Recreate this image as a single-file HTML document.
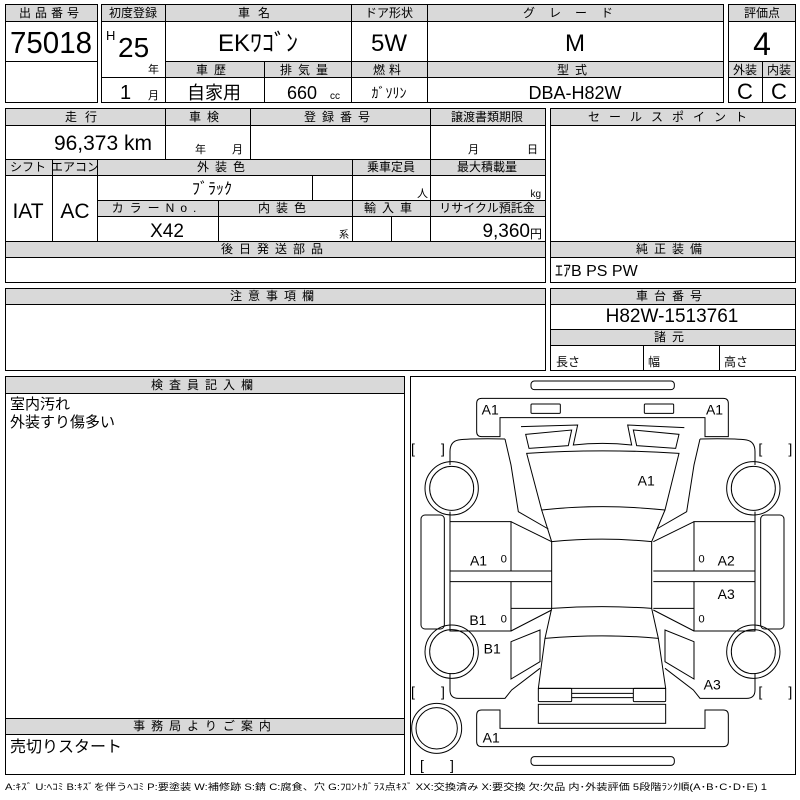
<!DOCTYPE html>
<html><head><meta charset="utf-8"><style>
html,body{margin:0;padding:0;background:#fff;width:800px;height:800px;overflow:hidden}
svg text{font-family:"Liberation Sans","Noto Sans CJK JP",sans-serif;fill:#000}
.h{font-size:12px;text-anchor:middle}
.m{text-anchor:middle}
.n{font-family:"Liberation Sans Narrow","Liberation Sans","Noto Sans CJK JP",sans-serif}
</style></head><body>
<svg width="800" height="800" viewBox="0 0 800 800" xmlns="http://www.w3.org/2000/svg">
<g fill="#d9d9d9" stroke="none">
<rect x="5" y="4" width="92" height="17"/>
<rect x="101" y="4" width="622" height="17"/>
<rect x="165" y="61" width="558" height="16"/>
<rect x="728" y="4" width="67" height="17"/>
<rect x="728" y="61" width="67" height="16"/>
<rect x="5" y="108" width="540" height="17"/>
<rect x="5" y="159" width="540" height="16"/>
<rect x="97" y="200" width="448" height="16"/>
<rect x="5" y="241" width="540" height="16"/>
<rect x="550" y="108" width="245" height="17"/>
<rect x="550" y="241" width="245" height="16"/>
<rect x="550" y="288" width="245" height="16"/>
<rect x="550" y="329" width="245" height="16"/>
<rect x="5" y="288" width="540" height="16"/>
<rect x="5" y="376" width="399" height="17"/>
<rect x="5" y="718" width="399" height="16"/>
</g>
<g fill="none" stroke="#000" stroke-width="1">
<rect x="5.5" y="4.5" width="92" height="98"/>
<path d="M5 21.5H97M5 61.5H97"/>
<rect x="101.5" y="4.5" width="622" height="98"/>
<path d="M101 21.5H723M165 61.5H723M101 77.5H723M165.5 4V102M351.5 4V102M427.5 4V102M264.5 61V102"/>
<rect x="728.5" y="4.5" width="67" height="98"/>
<path d="M728 21.5H795M728 61.5H795M728 77.5H795M762.5 61V102"/>
<rect x="5.5" y="108.5" width="540" height="174"/>
<path d="M5 125.5H545M5 159.5H545M5 175.5H545M97 200.5H545M97 216.5H545M5 241.5H545M5 257.5H545"/>
<path d="M165.5 108V159M250.5 108V159M430.5 108V241M52.5 159V241M97.5 159V241M352.5 159V241M312.5 175V200M218.5 200V241M391.5 216V241"/>
<rect x="550.5" y="108.5" width="245" height="174"/>
<path d="M550 125.5H795M550 241.5H795M550 257.5H795"/>
<rect x="550.5" y="288.5" width="245" height="82"/>
<path d="M550 304.5H795M550 329.5H795M550 345.5H795M643.5 345V370M719.5 345V370"/>
<rect x="5.5" y="288.5" width="540" height="82"/>
<path d="M5 304.5H545"/>
<rect x="5.5" y="376.5" width="399" height="398"/>
<path d="M5 393.5H404M5 718.5H404M5 734.5H404"/>
<rect x="410.5" y="376.5" width="385" height="398"/>
</g>

<!-- header texts -->
<text class="h" x="51" y="17" letter-spacing="4">出品番号</text>
<text class="m n" x="51" y="53" font-size="31" textLength="82" lengthAdjust="spacingAndGlyphs">75018</text>
<text class="h" x="133" y="17">初度登録</text>
<text x="106" y="40" font-size="13" class="n">H</text>
<text x="118" y="57" font-size="28" class="n">25</text>
<text x="148" y="73" font-size="11">年</text>
<text x="120" y="99" font-size="20" class="n">1</text>
<text x="148" y="99" font-size="11">月</text>
<text class="h" x="258" y="17" letter-spacing="8">車名</text>
<text class="m n" x="258" y="51" font-size="24">EKﾜｺﾞﾝ</text>
<text class="h" x="389" y="17">ドア形状</text>
<text class="m n" x="389" y="51" font-size="24">5W</text>
<text class="h" x="575" y="17" letter-spacing="14">グレード</text>
<text class="m n" x="575" y="51" font-size="24">M</text>
<text class="h" x="762" y="17">評価点</text>
<text class="m n" x="762" y="55" font-size="32">4</text>
<text class="h" x="214" y="74" letter-spacing="6">車歴</text>
<text class="h" x="307" y="74" letter-spacing="6">排気量</text>
<text class="h" x="389" y="74" letter-spacing="4">燃料</text>
<text class="h" x="575" y="74" letter-spacing="6">型式</text>
<text class="h" x="745" y="74">外装</text>
<text class="h" x="779" y="74">内装</text>
<text class="m" x="214" y="99" font-size="18">自家用</text>
<text class="n" x="287" y="99" font-size="18">660</text>
<text x="330" y="99" font-size="10">cc</text>
<text class="m" x="389" y="98" font-size="14">ｶﾞｿﾘﾝ</text>
<text class="m n" x="575" y="99" font-size="18">DBA-H82W</text>
<text class="m n" x="745" y="99" font-size="22">C</text>
<text class="m n" x="779" y="99" font-size="22">C</text>

<!-- middle block -->
<text class="h" x="85" y="121" letter-spacing="8">走行</text>
<text class="n" x="152" y="150" font-size="21" text-anchor="end">96,373 km</text>
<text class="h" x="207" y="121" letter-spacing="6">車検</text>
<text x="195" y="153" font-size="11">年</text>
<text x="232" y="153" font-size="11">月</text>
<text class="h" x="340" y="121" letter-spacing="6">登録番号</text>
<text class="h" x="487" y="121">譲渡書類期限</text>
<text x="468" y="153" font-size="11">月</text>
<text x="527" y="153" font-size="11">日</text>
<text class="h" x="28" y="171" font-size="11">シフト</text>
<text class="h" x="75" y="171" font-size="11">エアコン</text>
<text class="h" x="224" y="171" letter-spacing="6">外装色</text>
<text class="h" x="391" y="171">乗車定員</text>
<text class="h" x="487" y="171">最大積載量</text>
<text class="m" x="212" y="194" font-size="16">ﾌﾞﾗｯｸ</text>
<text x="428" y="197" font-size="11" text-anchor="end">人</text>
<text x="541" y="197" font-size="10" text-anchor="end">kg</text>
<text class="h" x="157" y="212" letter-spacing="6">カラーNo.</text>
<text class="h" x="285" y="212" letter-spacing="6">内装色</text>
<text class="h" x="391" y="212" letter-spacing="6">輸入車</text>
<text class="h" x="487" y="212" font-size="11">リサイクル預託金</text>
<text class="m n" x="167" y="237" font-size="19">X42</text>
<text x="349" y="238" font-size="10" text-anchor="end">系</text>
<text class="n" x="530" y="237" font-size="19" text-anchor="end">9,360</text>
<text x="542" y="238" font-size="12" text-anchor="end">円</text>
<text class="m n" x="28" y="218" font-size="21">IAT</text>
<text class="m n" x="75" y="218" font-size="21">AC</text>
<text class="h" x="275" y="253" letter-spacing="6">後日発送部品</text>

<text class="h" x="672" y="121" letter-spacing="9">セールスポイント</text>
<text class="h" x="672" y="253" letter-spacing="6">純正装備</text>
<text x="555" y="276" font-size="16" class="n">ｴｱB PS PW</text>
<text class="h" x="672" y="300" letter-spacing="6">車台番号</text>
<text class="m n" x="672" y="322" font-size="19">H82W-1513761</text>
<text class="h" x="672" y="341" letter-spacing="6">諸元</text>
<text x="556" y="366" font-size="12">長さ</text>
<text x="648" y="366" font-size="12">幅</text>
<text x="724" y="366" font-size="12">高さ</text>
<text class="h" x="275" y="300" letter-spacing="6">注意事項欄</text>
<text class="h" x="205" y="389" letter-spacing="6">検査員記入欄</text>
<text x="10" y="409" font-size="15">室内汚れ</text>
<text x="10" y="427" font-size="15">外装すり傷多い</text>
<text class="h" x="205" y="730" letter-spacing="6">事務局よりご案内</text>
<text x="10" y="752" font-size="16">売切りスタート</text>
<text x="5" y="790" font-size="9" textLength="762" lengthAdjust="spacingAndGlyphs">A:ｷｽﾞ U:ﾍｺﾐ B:ｷｽﾞを伴うﾍｺﾐ P:要塗装 W:補修跡 S:錆 C:腐食、穴 G:ﾌﾛﾝﾄｶﾞﾗｽ点ｷｽﾞ XX:交換済み X:要交換 欠:欠品 内･外装評価 5段階ﾗﾝｸ順(A･B･C･D･E) 1</text>

<!-- car diagram, zoom coords -->
<g transform="translate(405,375) scale(0.33333)">
<g fill="none" stroke="#000" stroke-width="3">
<defs>
<g id="half">
<circle cx="140" cy="340" r="80"/><circle cx="140" cy="340" r="66"/>
<circle cx="140" cy="830" r="80"/><circle cx="140" cy="830" r="66"/>
<rect x="48" y="420" width="70" height="342" rx="12"/>
<path d="M300 192 Q200 190 160 195 Q135 200 135 230 V270"/>
<path d="M135 410 V440 H318 V588"/>
<path d="M300 192 L318 270 L340 410 L430 462"/>
<path d="M318 440 L440 500"/>
<path d="M135 440 V768 H318 V620"/>
<path d="M135 588 H440 M135 620 H440"/>
<path d="M318 768 L440 705 M318 700 L440 700"/>
<path d="M135 895 V945 Q135 970 160 970 H300 L320 945 L405 880"/>
<path d="M318 800 L405 765 L405 860 L318 912 Z"/>
</g>
</defs>
<use href="#half"/>
<use href="#half" transform="translate(1185,0) scale(-1,1)"/>
<rect x="378" y="18" width="430" height="26" rx="10"/>
<path d="M230 70 H955 Q970 70 970 85 V185 H900 V128 H285 V185 H230 Q215 185 215 170 V85 Q215 70 230 70 Z"/>
<rect x="378" y="87" width="88" height="28" rx="3"/>
<rect x="718" y="87" width="88" height="28" rx="3"/>
<path d="M348 155 L518 150 L505 210 Q592 200 680 210 L668 150 L838 158"/>
<path d="M362 178 L500 165 L490 212 L372 220 Z"/>
<path d="M685 165 L822 178 L812 220 L695 212 Z"/>
<path d="M365 235 Q592 220 822 235 L780 405 Q592 385 410 405 Z"/>
<path d="M410 405 L440 500 Q592 485 740 500 L780 405"/>
<path d="M440 500 V700 Q592 690 740 700 V500"/>
<path d="M440 700 L420 790 Q592 775 760 790 L740 700"/>
<path d="M420 790 L400 940 H782 L760 790"/>
<rect x="400" y="940" width="100" height="40" rx="3"/>
<rect x="685" y="940" width="97" height="40" rx="3"/>
<path d="M500 955 H685 M500 968 H685"/>
<rect x="400" y="988" width="382" height="57"/>
<path d="M230 1005 H285 V1060 H900 V1005 H955 Q970 1005 970 1020 V1100 Q970 1115 955 1115 H230 Q215 1115 215 1100 V1020 Q215 1005 230 1005 Z"/>
<rect x="378" y="1145" width="430" height="26" rx="10"/>
<circle cx="95" cy="1060" r="75"/><circle cx="95" cy="1060" r="62"/>
</g>
<g font-size="42" class="n" style="font-family:'Liberation Sans Narrow','Liberation Sans',sans-serif">
<text x="230" y="118">A1</text><text x="903" y="118">A1</text>
<text x="698" y="332">A1</text>
<text x="195" y="572">A1</text><text x="938" y="572">A2</text>
<text x="938" y="672">A3</text>
<text x="193" y="750">B1</text><text x="236" y="835">B1</text>
<text x="896" y="943">A3</text>
<text x="233" y="1103">A1</text>
<text x="287" y="562" font-size="34">0</text><text x="287" y="742" font-size="34">0</text>
<text x="880" y="562" font-size="34">0</text><text x="880" y="742" font-size="34">0</text>
<text x="18" y="235">[</text><text x="108" y="235">]</text>
<text x="1060" y="235">[</text><text x="1150" y="235">]</text>
<text x="18" y="965">[</text><text x="108" y="965">]</text>
<text x="1060" y="965">[</text><text x="1150" y="965">]</text>
<text x="45" y="1185">[</text><text x="135" y="1185">]</text>
</g>
</g>
</svg>
</body></html>
